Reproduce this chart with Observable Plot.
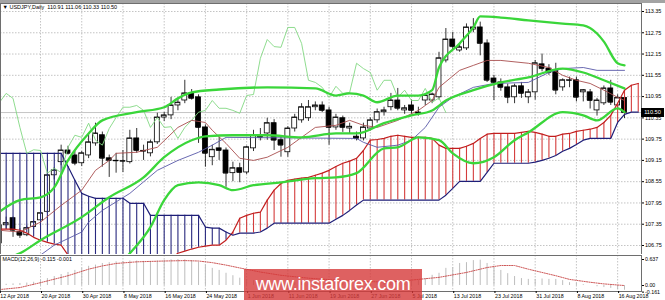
<!DOCTYPE html>
<html><head><meta charset="utf-8">
<script src="https://cdn.jsdelivr.net/npm/d3@7"></script>
<script src="https://cdn.jsdelivr.net/npm/@observablehq/plot@0.6"></script>
<style>
html,body{margin:0;padding:0;background:#fff;}
#wrap{position:relative;width:665px;height:300px;overflow:hidden;font-family:"Liberation Sans",Arial,sans-serif;background:#fff;}
#main,#macd{position:absolute;left:0;}
#main{top:0;}
#macd{top:254px;}
.topbar{position:absolute;left:0;top:0;width:665px;height:3px;background:#a3a3a3;}
.pricebox{position:absolute;left:641px;width:23px;height:9px;background:#000;color:#fff;font-size:5.6px;line-height:9px;text-align:center;}
.wm{position:absolute;left:244px;top:269px;width:178px;height:31px;background:rgba(214,58,58,0.8);color:#fff;font-size:18px;line-height:31px;text-align:center;letter-spacing:-0.3px;}
</style></head><body>
<div id="wrap">
  <div id="main"></div>
  <div id="macd"></div>
  <div class="topbar"></div>
  <div class="pricebox" id="pbox"></div>
  <div class="wm">www.instaforex.com</div>
</div>
<script>
// ---- candle data (daily bars, 12 Apr 2018 .. 17 Aug 2018) ----
const opens = [106.81,107.32,107.52,107.13,107.04,107.27,107.46,107.70,108.73,109.10,
109.43,109.29,109.07,109.29,109.63,109.86,109.21,109.13,109.12,109.10,
109.77,109.40,109.35,109.66,110.36,110.42,110.70,110.84,111.04,110.93,
110.08,109.24,109.49,109.43,108.79,108.93,108.81,109.49,109.86,109.91,
110.20,109.72,109.38,110.05,110.28,110.34,110.65,110.70,110.56,110.08,
110.34,110.05,109.82,109.77,110.05,110.28,110.51,110.65,110.84,110.56,
110.70,110.50,110.84,110.84,110.93,111.97,112.56,112.25,112.31,112.84,
112.90,112.45,111.46,111.35,111.21,110.93,111.24,110.93,111.07,111.86,
111.74,111.69,111.21,111.40,111.41,111.07,111.07,110.56,110.76,111.18,
110.70,110.91];
const highs = [107.40,107.55,107.55,107.22,107.30,107.45,107.74,108.80,108.95,109.58,
109.55,109.40,109.40,109.91,110.20,109.95,109.30,109.35,109.43,110.00,
110.05,109.58,109.72,110.48,110.50,110.93,110.90,111.41,111.15,111.00,
110.15,109.58,109.80,109.50,109.10,109.07,109.55,110.00,110.05,110.34,
110.30,109.80,110.10,110.45,110.75,110.84,110.80,110.80,110.65,110.45,
110.40,110.20,109.95,110.20,110.35,110.60,110.65,111.04,111.18,110.70,
110.85,110.65,111.00,111.05,112.20,112.87,112.76,112.45,113.00,113.15,
113.05,112.55,111.55,111.45,111.30,111.30,111.35,111.15,111.97,112.15,
111.85,111.89,111.45,111.50,111.50,111.15,111.15,110.90,111.25,111.41,
111.00,111.06];
const lows = [106.75,107.20,106.98,106.95,107.00,107.20,107.40,107.65,108.60,109.00,
109.30,109.00,108.98,109.20,109.55,108.96,108.67,108.79,108.81,109.05,
109.35,109.15,109.25,109.60,110.25,110.30,110.55,110.75,110.85,109.63,
108.96,109.00,109.15,108.39,108.55,108.52,108.75,109.40,109.70,109.72,
109.43,109.24,109.24,109.95,110.20,110.25,110.55,110.50,109.58,110.00,
109.94,109.90,109.70,109.70,109.98,110.20,110.40,110.55,110.55,110.45,
110.45,110.40,110.70,110.75,110.85,111.90,112.25,112.20,112.25,112.75,
112.10,111.35,110.84,111.10,110.75,110.75,110.90,110.75,110.85,111.65,
111.55,111.00,111.10,111.20,110.80,110.80,110.60,110.40,110.70,110.70,
110.60,110.33];
const closes = [107.32,107.38,107.18,107.04,107.24,107.41,107.66,108.73,108.87,109.43,
109.35,109.07,109.35,109.66,109.91,109.21,109.15,109.14,109.13,109.77,
109.43,109.42,109.66,110.36,110.42,110.70,110.78,111.04,110.90,110.08,
109.35,109.45,109.43,108.79,108.93,108.81,109.52,109.86,109.80,110.20,
109.72,109.58,110.05,110.36,110.65,110.65,110.70,110.56,110.08,110.36,
110.08,110.10,109.77,110.08,110.28,110.51,110.56,110.84,110.62,110.62,
110.56,110.48,110.98,111.01,112.03,112.56,112.36,112.34,112.90,112.90,
112.45,111.41,111.35,111.21,110.93,111.24,111.04,111.07,111.89,111.74,
111.63,111.13,111.41,111.41,110.93,111.13,110.84,110.84,111.18,110.79,
110.91,110.50];

// ---- axis labels ----
const dateLabels = ["12 Apr 2018","20 Apr 2018","30 Apr 2018","8 May 2018","16 May 2018","24 May 2018",
"1 Jun 2018","11 Jun 2018","19 Jun 2018","27 Jun 2018","5 Jul 2018","13 Jul 2018","23 Jul 2018",
"31 Jul 2018","8 Aug 2018","16 Aug 2018"];
const labelStep = 6;
const priceTicks = [113.35,112.75,112.15,111.55,110.95,110.35,109.75,109.15,108.55,107.95,107.35,106.75];
const macdTicks = [0.637, 0, -0.161];

// ---- Ichimoku: Senkou spans (per bar, run 2 bars past the last candle) ----
const senkouA = [107.21,107.21,107.21,107.18,107.10,106.98,106.90,106.84,106.79,106.76,
106.48,106.30,106.25,106.20,106.15,106.10,106.05,106.05,106.05,106.10,
106.15,106.20,106.25,106.30,106.35,106.39,106.53,106.59,106.65,106.70,
106.73,106.76,106.76,106.90,107.13,107.52,107.60,107.66,107.69,108.03,
108.31,108.50,108.59,108.62,108.65,108.67,108.73,108.79,108.87,108.98,
109.07,109.13,109.21,109.43,109.72,109.74,109.77,109.83,109.86,109.83,
109.80,109.80,109.80,109.77,109.58,109.49,109.49,109.49,109.55,109.63,
109.77,109.89,109.91,109.91,109.91,109.91,109.94,109.97,109.94,109.89,
109.83,109.83,109.89,109.91,109.97,110.00,110.03,110.08,110.22,110.42,
110.76,111.13,111.27,111.32];
const senkouB = [109.35,109.35,109.35,109.35,109.35,109.35,109.35,109.35,109.35,109.35,
108.98,108.59,108.22,108.14,108.08,108.08,108.08,108.08,108.08,107.94,
107.94,107.94,107.60,107.60,107.60,107.60,107.60,107.60,107.60,107.60,
107.27,107.24,107.24,107.13,107.04,107.10,107.10,107.10,107.13,107.24,
107.38,107.38,107.38,107.38,107.38,107.38,107.38,107.38,107.38,107.49,
107.60,107.74,107.89,108.03,108.03,108.03,108.03,108.03,108.03,108.03,
108.03,108.03,108.03,108.03,108.03,108.17,108.36,108.56,108.56,108.56,
108.56,108.81,109.07,109.07,109.07,109.07,109.07,109.07,109.10,109.15,
109.21,109.29,109.41,109.49,109.60,109.72,109.77,109.77,109.77,109.77,
110.22,110.45,110.51,110.51];
const chikouShift = 26;

// ---- Ichimoku Tenkan / Kijun (bar, price) ----
const tenkan = [[0,107.18],[3,107.13],[6,107.41],[9,107.88],[12,108.31],[14,108.87],[16,109.15],[17,109.35],
[20,109.38],[23,109.52],[26,110.08],[28,110.28],[30,110.22],[31,110.00],[33,109.63],[35,109.21],[37,109.15],
[39,109.24],[42,109.52],[44,109.80],[46,110.08],[49,110.14],[51,110.28],[53,110.14],[55,110.08],[58,110.28],
[61,110.56],[63,110.84],[64,111.21],[67,111.69],[69,111.83],[71,111.97],[73,111.97],[77,111.89],[80,111.77],
[82,111.55],[84,111.41],[86,111.32],[88,111.13],[90,110.93],[91,110.84]];
const kijun = [[0,105.80],[4,106.10],[6,106.48],[8,106.76],[12,107.13],[13,107.41],[15,107.74],[19,108.22],
[23,108.87],[26,109.15],[29,109.38],[31,109.58],[33,109.80],[52,109.77],[53,109.66],[55,109.52],[58,109.58],
[60,109.72],[62,110.08],[64,110.65],[66,110.93],[69,111.21],[72,111.32],[77,111.35],[80,111.63],[82,111.74],
[85,111.77],[87,111.69],[91,111.69]];

// ---- Bollinger bands (bar, price) ----
const bbUpper = [[0,107.70],[3,108.03],[6,108.11],[8,108.39],[10,109.15],[13,109.91],[15,110.28],[20,110.51],
[24,110.65],[26,110.90],[28,111.07],[32,111.15],[39,111.21],[46,111.18],[49,110.98],[51,111.04],[53,110.98],
[55,110.79],[58,110.98],[61,110.98],[63,111.13],[64,111.77],[67,112.45],[69,112.90],[70,113.21],[73,113.18],
[77,113.10],[82,113.01],[85,112.96],[87,112.73],[88,112.50],[90,111.89],[91,111.83]];
const bbMiddle = [[0,106.35],[3,106.53],[6,106.90],[12,107.55],[16,108.11],[21,108.67],[24,109.24],[28,109.72],
[30,109.83],[34,109.86],[39,109.86],[44,109.80],[49,109.91],[52,109.91],[56,110.20],[60,110.42],[63,110.56],
[65,110.84],[69,111.13],[73,111.35],[77,111.49],[82,111.74],[85,111.63],[88,111.41],[91,111.18]];
const bbLower = [[14,105.49],[19,106.53],[22,107.27],[24,108.03],[26,108.45],[29,108.53],[32,108.45],[34,108.31],
[37,108.45],[41,108.53],[46,108.65],[49,108.67],[52,108.79],[56,109.49],[58,109.52],[61,109.80],[64,109.72],
[66,109.35],[69,109.07],[72,109.24],[75,109.72],[77,109.94],[82,110.51],[85,110.42],[87,110.28],[90,110.62],[91,110.51]];

// ---- MACD(12,26,9) ----
const macdMain = [0.02,0.03,0.04,0.05,0.06,0.08,0.12,0.17,0.22,0.27,
0.32,0.37,0.42,0.47,0.50,0.54,0.56,0.58,0.59,0.60,
0.60,0.59,0.59,0.60,0.62,0.63,0.637,0.63,0.61,0.57,
0.50,0.42,0.37,0.30,0.24,0.18,0.14,0.12,0.10,0.10,
0.09,0.07,0.06,0.07,0.08,0.09,0.10,0.10,0.08,0.07,
0.06,0.05,0.04,0.04,0.05,0.06,0.07,0.09,0.10,0.10,
0.11,0.12,0.17,0.25,0.30,0.42,0.44,0.54,0.56,0.61,
0.62,0.54,0.44,0.37,0.29,0.22,0.17,0.15,0.15,0.16,
0.15,0.15,0.12,0.07,0.05,0.02,0.00,-0.03,-0.05,-0.07,
-0.10,-0.115];
const macdSignal = [[0,-0.10],[3,-0.05],[6,0.07],[10,0.24],[13,0.40],[15,0.48],[17,0.54],[20,0.58],[24,0.60],
[27,0.61],[29,0.60],[31,0.56],[33,0.50],[35,0.43],[38,0.33],[41,0.25],[45,0.18],[50,0.12],[55,0.09],[58,0.10],
[61,0.15],[64,0.20],[68,0.32],[71,0.44],[73,0.49],[75,0.49],[77,0.40],[81,0.24],[83,0.15],[86,0.08],[88,0.04],[91,-0.001]];

// ---- build tables ----
const bars = closes.map((c, i) => ({i, o: opens[i], h: highs[i], l: lows[i], c}));
const last = bars[bars.length - 1];
const cloud = senkouA.map((a, i) => ({i, a, b: senkouB[i]}));
const chikou = bars.filter(d => d.i >= chikouShift).map(d => ({i: d.i - chikouShift, c: d.c}));
const pts = arr => arr.map(([i, v]) => ({i, v}));
const xTicks = dateLabels.map((_, k) => k * labelStep);
const macdBars = macdMain.map((v, i) => ({i, v}));
const sigLast = macdSignal[macdSignal.length - 1][1];
const title = `\u25BC USDJPY,Daily  ${last.o.toFixed(2)} ${last.h.toFixed(2)} ${last.l.toFixed(2)} ${last.c.toFixed(2)}`;
const macdTitle = `MACD(12,26,9) ${macdMain[macdMain.length-1].toFixed(3)} ${sigLast.toFixed(3)}`;

const FONT = "Liberation Sans, Arial, sans-serif";
const grid = {stroke: "#b5b5b5", strokeOpacity: 1, strokeDasharray: "1.5,1.5", strokeWidth: 0.8};
const half = 0.36;

const main = Plot.plot({
  width: 665, height: 254,
  marginLeft: 0, marginRight: 24, marginTop: 3, marginBottom: 0,
  style: {fontFamily: FONT, fontSize: "5.5px", color: "#000", background: "transparent"},
  x: {domain: [0, 91], range: [-1.2, 624], axis: null},
  y: {domain: [106.75, 113.35], range: [245, 11]},
  color: {type: "identity"},
  marks: [
    Plot.gridX(xTicks, grid),
    Plot.gridY(priceTicks, grid),
    Plot.ruleY([last.c], {stroke: "#c6c6c6", strokeWidth: 1}),
    Plot.ruleX(bars, {x: "i", y1: "l", y2: "h", stroke: "#000", strokeWidth: 0.8, clip: true}),
    Plot.rect(bars, {x1: d => d.i - half, x2: d => d.i + half, y1: "o", y2: "c",
      fill: d => d.c >= d.o ? "#fff" : "#000", stroke: "#000", strokeWidth: 0.8, clip: true}),
    Plot.ruleY(bars, {y: "c", x1: d => d.i - half, x2: d => d.i + half, stroke: "#000", strokeWidth: 0.8, clip: true}),
    Plot.ruleX(cloud, {x: "i", y1: "a", y2: "b", stroke: d => d.a > d.b ? "#d43c3c" : "#28287e", strokeWidth: 1.1, clip: true}),
    Plot.line(cloud, {x: "i", y: "a", stroke: "#c21e1e", strokeWidth: 1.2, clip: true}),
    Plot.line(cloud, {x: "i", y: "b", stroke: "#1e1e78", strokeWidth: 1.2, clip: true}),
    Plot.line(chikou, {x: "i", y: "c", stroke: "#82d882", strokeWidth: 0.9, clip: true}),
    Plot.line(pts(kijun), {x: "i", y: "v", stroke: "#5858a8", strokeWidth: 0.9, clip: true}),
    Plot.line(pts(tenkan), {x: "i", y: "v", stroke: "#a84e4e", strokeWidth: 0.9, clip: true}),
    Plot.line(pts(bbUpper), {x: "i", y: "v", stroke: "#3ad63a", strokeWidth: 2.3, curve: "monotone-x", clip: true}),
    Plot.line(pts(bbMiddle), {x: "i", y: "v", stroke: "#3ad63a", strokeWidth: 2.3, curve: "monotone-x", clip: true}),
    Plot.line(pts(bbLower), {x: "i", y: "v", stroke: "#3ad63a", strokeWidth: 2.3, curve: "monotone-x", clip: true}),
    Plot.frame({stroke: "#6e6e6e"}),
    Plot.axisY(priceTicks, {anchor: "right", tickSize: 2, tickPadding: 1.5, tickFormat: d => d.toFixed(2), label: null, fontSize: 5.5}),
    Plot.text([title], {frameAnchor: "top-left", dx: 2, dy: 2, lineAnchor: "top", textAnchor: "start", fontSize: 5.5, fill: "#000"})
  ]
});
document.getElementById("main").appendChild(main);

const macd = Plot.plot({
  width: 665, height: 46,
  marginLeft: 0, marginRight: 24, marginTop: 1, marginBottom: 9,
  style: {fontFamily: FONT, fontSize: "5.3px", color: "#000", background: "transparent"},
  x: {domain: [0, 91], range: [-1.2, 624]},
  y: {domain: [-0.161, 0.637], range: [37.6, 5]},
  marks: [
    Plot.gridX(xTicks, grid),
    Plot.ruleX(macdBars, {x: "i", y1: 0, y2: "v", stroke: "#bdbdbd", strokeWidth: 1, clip: true}),
    Plot.line(pts(macdSignal), {x: "i", y: "v", stroke: "#c84646", strokeWidth: 0.9, strokeDasharray: "1.2,1.2", clip: true}),
    Plot.frame({stroke: "#6e6e6e"}),
    Plot.axisX(xTicks, {anchor: "bottom", tickSize: 2, tickPadding: 1, textAnchor: "start", dx: 1,
      tickFormat: d => dateLabels[d / labelStep], label: null, fontSize: 5.3}),
    Plot.axisY(macdTicks, {anchor: "right", tickSize: 2, tickPadding: 1.5,
      tickFormat: d => d === 0 ? "0.00" : String(d), label: null, fontSize: 5.3}),
    Plot.text([macdTitle], {frameAnchor: "top-left", dx: 2, dy: 2, lineAnchor: "top", textAnchor: "start", fontSize: 5.3, fill: "#000"})
  ]
});
document.getElementById("macd").appendChild(macd);

const pbox = document.getElementById("pbox");
pbox.textContent = last.c.toFixed(2);
pbox.style.top = (main.scale("y").apply(last.c) - 4.5) + "px";
</script>
</body></html>
